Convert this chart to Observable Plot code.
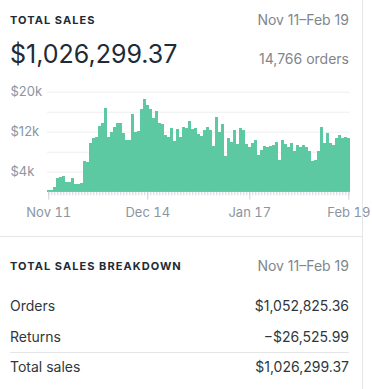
<!DOCTYPE html>
<html>
<head>
<meta charset="utf-8">
<script src="https://cdn.jsdelivr.net/npm/d3@7"></script>
<script src="https://cdn.jsdelivr.net/npm/@observablehq/plot@0.6"></script>
<style>
  html, body { margin: 0; padding: 0; background: #fff; }
  body { width: 372px; height: 389px; position: relative; overflow: hidden; font-family: Inter, "Noto Sans", sans-serif; color: #212b36; }
  .t { position: absolute; white-space: nowrap; line-height: 1; }
  .h { font-size: 11px; font-weight: 700; letter-spacing: 1.05px; color: #212b36; left: 10px; }
  .d { font-size: 14px; color: #80868c; right: 23px; }
  .row { font-size: 14px; color: #30373c; }
  .l { left: 10px; }
  .r { right: 23px; }
  .line { position: absolute; background: #e4e6e8; }
  #chart { position: absolute; left: 0; top: 75px; }
</style>
</head>
<body>
  <div class="line" style="left:362px;top:0;width:1px;height:389px;"></div>
  <div class="t h" style="top:14.5px;">TOTAL SALES</div>
  <div class="t d" style="top:12.9px;">Nov 11–Feb 19</div>
  <div class="t" style="left:10px;top:42.4px;font-size:25px;color:#212b36;">$1,026,299.37</div>
  <div class="t d" style="top:51.9px;">14,766 orders</div>
  <div id="chart"></div>
  <div class="line" style="left:0;top:236px;width:362px;height:1px;"></div>
  <div class="t h" style="top:261.2px;">TOTAL SALES BREAKDOWN</div>
  <div class="t d" style="top:258.9px;">Nov 11–Feb 19</div>
  <div class="t row l" style="top:299.2px;">Orders</div>
  <div class="t row r" style="top:299.2px;">$1,052,825.36</div>
  <div class="t row l" style="top:329.6px;">Returns</div>
  <div class="t row r" style="top:329.6px;">−$26,525.99</div>
  <div class="line" style="left:10px;top:352px;width:339px;height:1px;"></div>
  <div class="t row l" style="top:360.4px;">Total sales</div>
  <div class="t row r" style="top:360.4px;">$1,026,299.37</div>
<script>
// ---- data ----
const startDay = "2019-11-11";
const endDay = "2020-02-19";
// daily total sales (USD), Nov 11 → Feb 19
const sales = [
  300, 400, 1000, 2800, 2900, 3100, 2000, 2000, 2800, 1500,
  1500, 1700, 6100, 5900, 9700, 10800, 10900, 13200, 13700, 16800,
  11000, 12000, 13000, 13700, 13800, 11700, 10300, 10300, 15500, 11900,
  12100, 16500, 18500, 17300, 16500, 14700, 16100, 13700, 13500, 11300,
  11000, 12800, 10100, 12500, 11000, 13000, 12700, 14100, 12500, 12800,
  11500, 11200, 12300, 13000, 12300, 9200, 15000, 12000, 13500, 7200,
  10800, 9900, 12400, 9500, 12800, 12400, 9500, 9000, 9700, 10300,
  7300, 8300, 9200, 9000, 9200, 9300, 9900, 6300, 10300, 9600,
  9000, 9700, 8200, 9400, 9000, 9300, 8900, 8200, 6200, 6300,
  8100, 13000, 9700, 11700, 9700, 9300, 10800, 11300, 10800, 11000,
  10800
];
const xTickDates = ["2019-11-11", "2019-12-14", "2020-01-17", "2020-02-19"];
const xTickLabels = ["Nov 11", "Dec 14", "Jan 17", "Feb 19"];
const yGridValues = [4000, 8000, 12000, 16000, 20000];
const yLabelValues = [4000, 12000, 20000];
const yLabels = ["$4k", "$12k", "$20k"];

// ---- build ----
const start = new Date(startDay);
const end = new Date(endDay);
const days = d3.utcDay.range(start, d3.utcDay.offset(end, 1));
const data = days.map((date, i) => ({date, value: sales[i]}));
const HALF = 12 * 3600 * 1000;
const labelByTime = new Map(xTickDates.map((d, i) => [+new Date(d), xTickLabels[i]]));
const axisColor = "#8b95a1";

const chart = Plot.plot({
  width: 372,
  height: 150,
  marginLeft: 46.8,
  marginRight: 22.2,
  marginTop: 16.7,
  marginBottom: 33.3,
  style: {fontFamily: "Inter, 'Noto Sans', sans-serif", fontSize: "13px", color: axisColor, background: "transparent", overflow: "visible"},
  x: {type: "utc", domain: [new Date(+start - HALF), new Date(+end + HALF)]},
  y: {domain: [0, 20000]},
  marks: [
    Plot.ruleY(yGridValues, {stroke: "#eceef0", strokeWidth: 1}),
    Plot.rectY(data, {
      x1: d => new Date(+d.date - HALF),
      x2: d => new Date(+d.date + HALF),
      y: "value",
      fill: "#5cc9a2",
      inset: 0,
      shapeRendering: "crispEdges"
    }),
    Plot.axisX({ticks: days, tickSize: 3.5, tickFormat: () => "", stroke: "#cdd2d7"}),
    Plot.axisX({ticks: xTickDates.map(d => new Date(d)), tickSize: 8, tickPadding: 8, tickFormat: d => labelByTime.get(+d), stroke: "#cdd2d7", fill: axisColor}),
    Plot.axisY({ticks: [], label: null}),
    Plot.text(yLabelValues, {y: d => d, text: (d, i) => yLabels[i], frameAnchor: "left", textAnchor: "start", dx: -36.8, fill: axisColor, fontSize: 13})
  ]
});
document.getElementById("chart").appendChild(chart);
</script>
</body>
</html>
